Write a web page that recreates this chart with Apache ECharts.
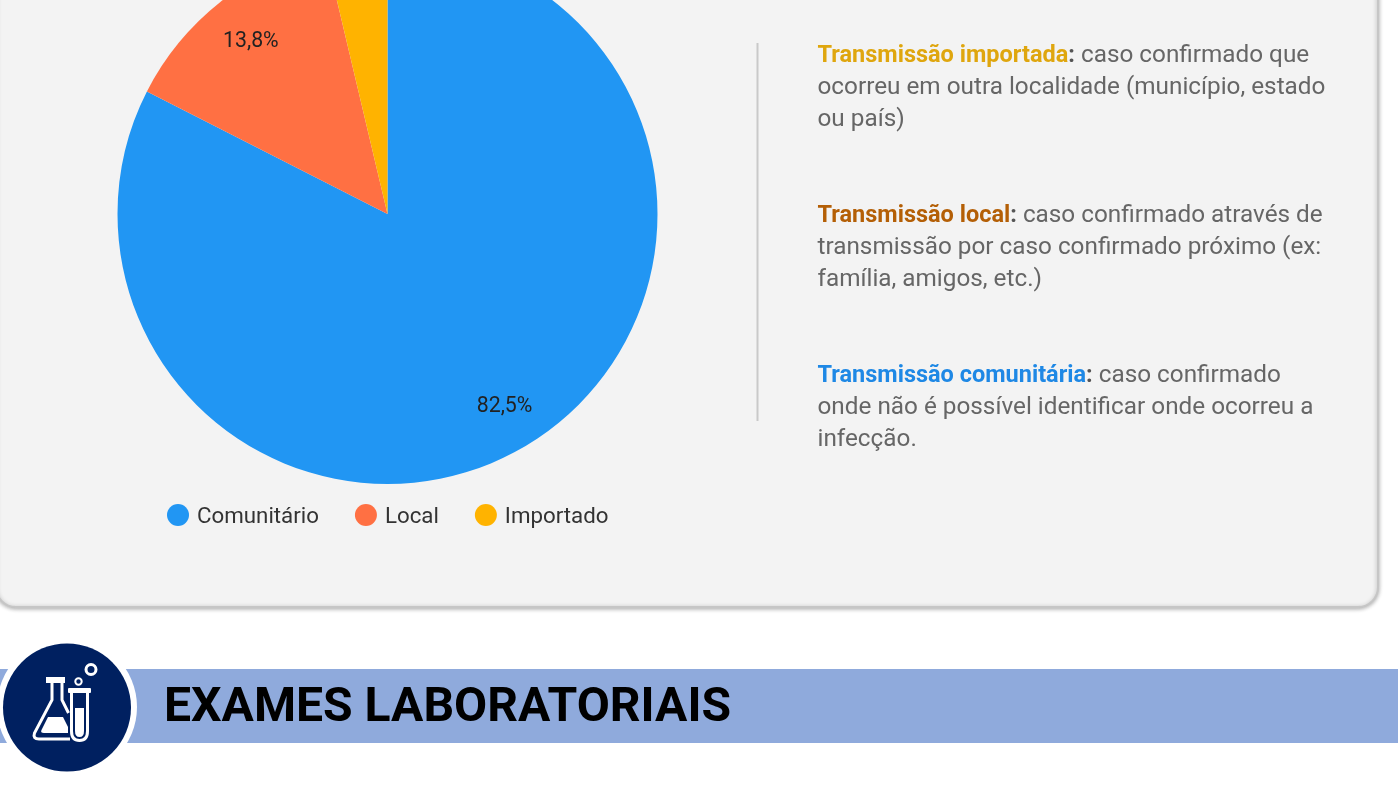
<!DOCTYPE html>
<html>
<head>
<meta charset="utf-8">
<style>
  html, body { margin: 0; padding: 0; background: #fff; }
  #chart { width: 1398px; height: 798px; }
</style>
<script src="https://cdn.jsdelivr.net/npm/echarts@6/dist/echarts.min.js"></script>
</head>
<body>
<div id="chart"></div>
<script>
const categories = ["Comunitário", "Local", "Importado"]
const values = [82.5, 13.8, 3.7]
const colors = ["#2196f3", "#ff7043", "#ffb300"]
const labelOffsets = [[-1, 0], [3, 5], [0, 0]]
const heading = "EXAMES LABORATORIAIS"

const fmt = (p) => (p.value < 5 ? "" : p.value.toFixed(1).replace(".", ",") + "%")
const pieData = categories.map((name, i) => ({ name, value: values[i], itemStyle: { color: colors[i] } }))

const bodyRich = {
  imp: { fontFamily: "Roboto", fontSize: 23.5, fontWeight: "bold", fill: "#dfa60e", lineHeight: 32 },
  loc: { fontFamily: "Roboto", fontSize: 23.5, fontWeight: "bold", fill: "#b45f06", lineHeight: 32 },
  com: { fontFamily: "Roboto", fontSize: 23.5, fontWeight: "bold", fill: "#1e88e5", lineHeight: 32 },
  col: { fontFamily: "Roboto", fontSize: 23.5, fontWeight: "bold", fill: "#555555", lineHeight: 32 },
  txt: { fontFamily: "Roboto", fontSize: 24.3, fill: "#666666", lineHeight: 32 }
}
const note = (y, text) => ({
  type: "text",
  z: 2,
  x: 817.5,
  y,
  style: { text, rich: bodyRich, font: "24px Roboto", fill: "#666666", lineHeight: 32 }
})

// lab flask and test tube drawn as registered shapes, graphic has no plain path type
const flaskPath = "M52 683 V700 L34.5 733 Q32.5 739 39 739 H70"
const flaskRightPath = "M62 683 V700 L68.5 713"
const liquidPath = "M48 717 H63 L68 727 V733 H44 Q40 733 41.5 730 Z"
const tubePath = "M71.5 692 V731 Q71.5 740.5 79.5 740.5 Q87.5 740.5 87.5 731 V692"
const tubeLiquidPath = "M75 708 H84 V731 Q84 737 79.5 737 Q75 737 75 731 Z"

const chart = echarts.init(document.getElementById("chart"))
const iconEl = (name, pathData, style) => {
  const Shape = echarts.graphic.extendPath(pathData, {})
  echarts.graphic.registerShape(name, Shape)
  // extendPath scales the path into shape x/y/width/height, so read its own box
  const rect = new Shape().getBoundingRect()
  return {
    type: name,
    z: 4,
    shape: { x: rect.x, y: rect.y, width: rect.width, height: rect.height },
    style
  }
}
const white = { fill: "#ffffff" }
const outline = { fill: "none", stroke: "#ffffff", lineWidth: 3 }

chart.setOption({
  animation: false,
  backgroundColor: "#ffffff",
  legend: {
    left: 167,
    top: 504,
    padding: 0,
    itemWidth: 22,
    itemHeight: 22,
    itemGap: 36,
    icon: "circle",
    data: categories,
    formatter: "{t|{name}}",
    textStyle: {
      padding: [0, 0, 0, 3],
      rich: {
        t: { fontFamily: "Roboto", fontSize: 22.3, color: "#333333", lineHeight: 26, verticalAlign: "bottom" }
      }
    }
  },
  graphic: [
    {
      type: "rect", z: 0,
      shape: { x: -4, y: -40, width: 1382, height: 647, r: 20 },
      style: { fill: "#f3f3f3", stroke: "#c6c6c6", lineWidth: 2, shadowBlur: 4, shadowColor: "rgba(0,0,0,0.3)", shadowOffsetY: 1 }
    },
    { type: "line", z: 1, shape: { x1: 757.5, y1: 43, x2: 757.5, y2: 421 }, style: { stroke: "#c9c9c9", lineWidth: 2 } },
    note(40, "{imp|Transmissão importada}{col|:}{txt| caso confirmado que}\n{txt|ocorreu em outra localidade (município, estado}\n{txt|ou país)}"),
    note(200, "{loc|Transmissão local}{col|:}{txt| caso confirmado através de}\n{txt|transmissão por caso confirmado próximo (ex:}\n{txt|família, amigos, etc.)}"),
    note(360, "{com|Transmissão comunitária}{col|:}{txt| caso confirmado}\n{txt|onde não é possível identificar onde ocorreu a}\n{txt|infecção.}"),
    { type: "rect", z: 1, shape: { x: 0, y: 669, width: 1398, height: 74 }, style: { fill: "#8faadc" } },
    { type: "circle", z: 2, shape: { cx: 67, cy: 707, r: 70 }, style: { fill: "#ffffff" } },
    { type: "circle", z: 3, shape: { cx: 67, cy: 707.5, r: 64 }, style: { fill: "#002060" } },
    iconEl("labFlask", flaskPath, outline),
    iconEl("labFlaskRight", flaskRightPath, outline),
    iconEl("labLiquid", liquidPath, white),
    { type: "rect", z: 4, shape: { x: 46, y: 677, width: 19, height: 6 }, style: white },
    { type: "rect", z: 4, shape: { x: 68, y: 688, width: 23, height: 5, r: 1 }, style: white },
    iconEl("labTube", tubePath, outline),
    iconEl("labTubeLiquid", tubeLiquidPath, white),
    { type: "circle", z: 4, shape: { cx: 78.5, cy: 681.5, r: 3.2 }, style: { fill: "none", stroke: "#ffffff", lineWidth: 2 } },
    { type: "circle", z: 4, shape: { cx: 91, cy: 669.5, r: 5 }, style: { fill: "none", stroke: "#ffffff", lineWidth: 3 } },
    {
      type: "text", z: 4, x: 164, y: 685,
      style: { text: heading, font: "bold 48.1px Roboto", fill: "#000000" }
    }
  ],
  series: [
    {
      type: "pie",
      z: 2,
      center: [387.5, 214],
      radius: [0, 270],
      startAngle: 90,
      clockwise: true,
      silent: true,
      label: { show: false },
      labelLine: { show: false },
      data: pieData
    },
    {
      // carries the percent labels at the ring midpoint, slices stay transparent
      type: "pie",
      z: 3,
      center: [387.5, 214],
      radius: [176, 270],
      startAngle: 90,
      clockwise: true,
      silent: true,
      legendHoverLink: false,
      label: { show: true, position: "inner", formatter: fmt, fontFamily: "Roboto", fontSize: 21.3, color: "#222222" },
      labelLine: { show: false },
      data: categories.map((name, i) => ({
        name,
        value: values[i],
        itemStyle: { color: "transparent" },
        label: { offset: labelOffsets[i] }
      }))
    }
  ]
})
</script>
</body>
</html>
